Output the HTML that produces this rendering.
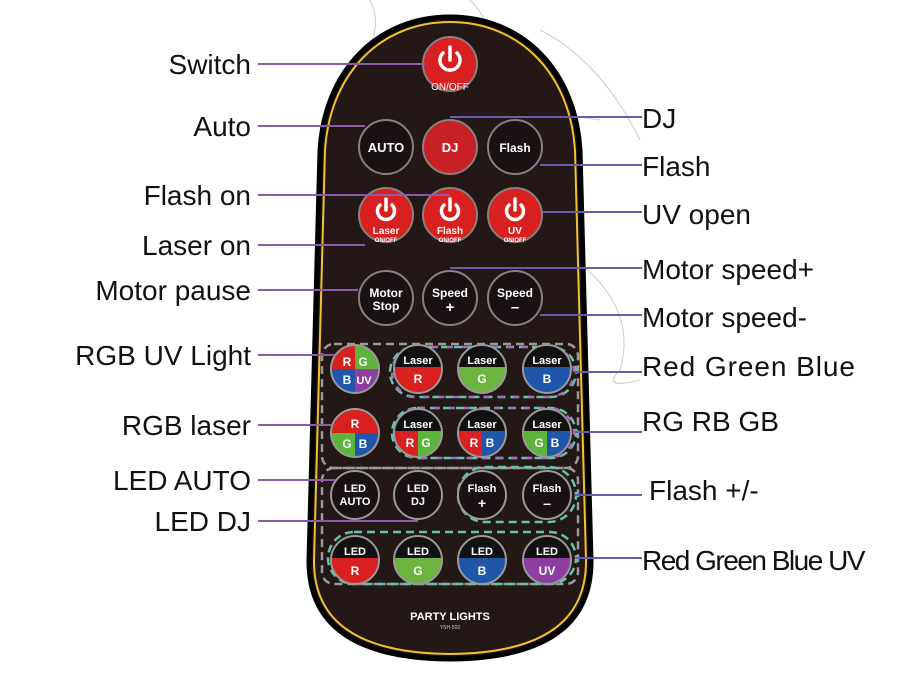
<!DOCTYPE html>
<html><head><meta charset="utf-8"><style>
html,body{margin:0;padding:0;background:#fff;}
svg{display:block;}
text{font-family:"Liberation Sans",sans-serif;}
.lbl{font-size:28px;fill:#111;}
.b{font-weight:bold;fill:#fff;text-anchor:middle;}
</style></head><body>
<svg width="900" height="677" viewBox="0 0 900 677" xmlns="http://www.w3.org/2000/svg">
<defs>
<clipPath id="c"><circle r="24"/></clipPath>
</defs>
<g fill="none" stroke="#ccc" stroke-width="1">
<path d="M370 0 Q380 20 372 40"/><path d="M470 0 Q500 30 480 60 Q520 110 600 120"/>
<path d="M540 30 Q600 60 640 140"/><path d="M560 250 Q640 300 620 370 Q600 390 640 380"/>
</g>
<path d="M450,17 C522,17 575,70 580,150 L591,560 Q592,658 450,659 Q308,658 309,560 L320,150 C325,70 378,17 450,17 Z" fill="#1a0f0f" stroke="#000" stroke-width="5"/>
<path d="M450,22 C519,22 570,73 575,150 L586,560 Q587,653 450,654 Q313,653 314,560 L325,150 C330,73 381,22 450,22 Z" fill="#231815" stroke="#f2c12e" stroke-width="2"/>

<g fill="none" stroke-width="2.5" stroke-dasharray="8 5">
<rect x="322" y="344" width="256" height="124" rx="12" stroke="#9a9a9a"/>
<rect x="322" y="468" width="256" height="116" rx="12" stroke="#9a9a9a"/>
<rect x="390" y="347" width="186" height="50" rx="25" stroke="#5fc6a8"/>
<rect x="392" y="408" width="184" height="50" rx="25" stroke="#5fc6a8"/>
<rect x="458" y="467" width="118" height="55" rx="27" stroke="#5fc6a8"/>
<rect x="328" y="532" width="248" height="52" rx="26" stroke="#5fc6a8"/>
<rect x="392" y="347" width="182" height="50" rx="25" stroke="#a36ac0" stroke-dasharray="6 9"/>
<rect x="394" y="408" width="180" height="50" rx="25" stroke="#a36ac0" stroke-dasharray="6 9"/>
</g>

<g stroke="#8a7f7f" stroke-width="2">
<circle cx="450" cy="64" r="27" fill="#d7201f"/>
<circle cx="386" cy="147" r="27" fill="#1a1212"/>
<circle cx="450" cy="147" r="27" fill="#c82025"/>
<circle cx="515" cy="147" r="27" fill="#1a1212"/>
<circle cx="386" cy="215" r="27" fill="#d7201f"/>
<circle cx="450" cy="215" r="27" fill="#d7201f"/>
<circle cx="515" cy="215" r="27" fill="#d7201f"/>
<circle cx="386" cy="298" r="27" fill="#1a1212"/>
<circle cx="450" cy="298" r="27" fill="#1a1212"/>
<circle cx="515" cy="298" r="27" fill="#1a1212"/>
</g>
<g fill="none" stroke="#fff" stroke-width="3.5" stroke-linecap="round">
<path d="M443,53 A10,10 0 1 0 457,53"/><line x1="450" y1="47" x2="450" y2="60"/>
<path d="M380,205 A8.5,8.5 0 1 0 392,205"/><line x1="386" y1="199" x2="386" y2="210"/>
<path d="M444,205 A8.5,8.5 0 1 0 456,205"/><line x1="450" y1="199" x2="450" y2="210"/>
<path d="M509,205 A8.5,8.5 0 1 0 521,205"/><line x1="515" y1="199" x2="515" y2="210"/>
</g>
<g class="b">
<text x="450" y="90" font-size="10" font-weight="normal">ON/OFF</text>
<text x="386" y="152" font-size="13">AUTO</text>
<text x="450" y="152" font-size="13">DJ</text>
<text x="515" y="152" font-size="12">Flash</text>
<text x="386" y="234" font-size="10">Laser</text>
<text x="450" y="234" font-size="10">Flash</text>
<text x="515" y="234" font-size="10">UV</text>
<text x="386" y="242" font-size="6">ON/OFF</text>
<text x="450" y="242" font-size="6">ON/OFF</text>
<text x="515" y="242" font-size="6">ON/OFF</text>
<text x="386" y="297" font-size="12">Motor</text>
<text x="386" y="310" font-size="12">Stop</text>
<text x="450" y="297" font-size="12">Speed</text>
<text x="450" y="312" font-size="15">+</text>
<text x="515" y="297" font-size="12">Speed</text>
<text x="515" y="312" font-size="15">–</text>
</g>

<g transform="translate(355,369)"><g clip-path="url(#c)">
<rect x="-24" y="-24" width="24" height="24" fill="#d7201f"/><rect x="0" y="-24" width="24" height="24" fill="#5cb43a"/>
<rect x="-24" y="0" width="24" height="24" fill="#1f56a8"/><rect x="0" y="0" width="24" height="24" fill="#8c3fa0"/></g>
<circle r="24" fill="none" stroke="#999" stroke-width="2"/>
<g class="b" font-size="12"><text x="-8" y="-3">R</text><text x="8" y="-3">G</text><text x="-8" y="15">B</text><text x="9" y="15" font-size="11">UV</text></g></g>

<g transform="translate(418,369)"><g clip-path="url(#c)"><rect x="-24" y="-24" width="48" height="22" fill="#111"/><rect x="-24" y="-2" width="48" height="26" fill="#d7201f"/></g>
<circle r="24" fill="none" stroke="#999" stroke-width="2"/><g class="b"><text y="-5" font-size="11">Laser</text><text y="14" font-size="12">R</text></g></g>
<g transform="translate(482,369)"><g clip-path="url(#c)"><rect x="-24" y="-24" width="48" height="22" fill="#111"/><rect x="-24" y="-2" width="48" height="26" fill="#6cb33f"/></g>
<circle r="24" fill="none" stroke="#999" stroke-width="2"/><g class="b"><text y="-5" font-size="11">Laser</text><text y="14" font-size="12">G</text></g></g>
<g transform="translate(547,369)"><g clip-path="url(#c)"><rect x="-24" y="-24" width="48" height="22" fill="#111"/><rect x="-24" y="-2" width="48" height="26" fill="#1f56a8"/></g>
<circle r="24" fill="none" stroke="#999" stroke-width="2"/><g class="b"><text y="-5" font-size="11">Laser</text><text y="14" font-size="12">B</text></g></g>

<g transform="translate(355,433)"><g clip-path="url(#c)"><rect x="-24" y="-24" width="48" height="24" fill="#d7201f"/>
<rect x="-24" y="0" width="24" height="24" fill="#5cb43a"/><rect x="0" y="0" width="24" height="24" fill="#1f56a8"/></g>
<circle r="24" fill="none" stroke="#999" stroke-width="2"/><g class="b" font-size="12"><text y="-5">R</text><text x="-8" y="15">G</text><text x="8" y="15">B</text></g></g>
<g transform="translate(418,433)"><g clip-path="url(#c)"><rect x="-24" y="-24" width="48" height="22" fill="#111"/><rect x="-24" y="-2" width="24" height="26" fill="#d7201f"/><rect x="0" y="-2" width="24" height="26" fill="#5cb43a"/></g>
<circle r="24" fill="none" stroke="#999" stroke-width="2"/><g class="b"><text y="-5" font-size="11">Laser</text><text x="-8" y="14" font-size="12">R</text><text x="8" y="14" font-size="12">G</text></g></g>
<g transform="translate(482,433)"><g clip-path="url(#c)"><rect x="-24" y="-24" width="48" height="22" fill="#111"/><rect x="-24" y="-2" width="24" height="26" fill="#d7201f"/><rect x="0" y="-2" width="24" height="26" fill="#1f56a8"/></g>
<circle r="24" fill="none" stroke="#999" stroke-width="2"/><g class="b"><text y="-5" font-size="11">Laser</text><text x="-8" y="14" font-size="12">R</text><text x="8" y="14" font-size="12">B</text></g></g>
<g transform="translate(547,433)"><g clip-path="url(#c)"><rect x="-24" y="-24" width="48" height="22" fill="#111"/><rect x="-24" y="-2" width="24" height="26" fill="#5cb43a"/><rect x="0" y="-2" width="24" height="26" fill="#1f56a8"/></g>
<circle r="24" fill="none" stroke="#999" stroke-width="2"/><g class="b"><text y="-5" font-size="11">Laser</text><text x="-8" y="14" font-size="12">G</text><text x="8" y="14" font-size="12">B</text></g></g>

<g stroke="#999" stroke-width="2" fill="#1a1212">
<circle cx="355" cy="495" r="24"/><circle cx="418" cy="495" r="24"/><circle cx="482" cy="495" r="24"/><circle cx="547" cy="495" r="24"/></g>
<g class="b" font-size="11">
<text x="355" y="492">LED</text><text x="355" y="505">AUTO</text>
<text x="418" y="492">LED</text><text x="418" y="505">DJ</text>
<text x="482" y="492">Flash</text><text x="482" y="508" font-size="14">+</text>
<text x="547" y="492">Flash</text><text x="547" y="508" font-size="14">–</text>
</g>

<g transform="translate(355,560)"><g clip-path="url(#c)"><rect x="-24" y="-24" width="48" height="22" fill="#111"/><rect x="-24" y="-2" width="48" height="26" fill="#d7201f"/></g>
<circle r="24" fill="none" stroke="#999" stroke-width="2"/><g class="b"><text y="-5" font-size="11">LED</text><text y="15" font-size="12">R</text></g></g>
<g transform="translate(418,560)"><g clip-path="url(#c)"><rect x="-24" y="-24" width="48" height="22" fill="#111"/><rect x="-24" y="-2" width="48" height="26" fill="#6cb33f"/></g>
<circle r="24" fill="none" stroke="#999" stroke-width="2"/><g class="b"><text y="-5" font-size="11">LED</text><text y="15" font-size="12">G</text></g></g>
<g transform="translate(482,560)"><g clip-path="url(#c)"><rect x="-24" y="-24" width="48" height="22" fill="#111"/><rect x="-24" y="-2" width="48" height="26" fill="#1f56a8"/></g>
<circle r="24" fill="none" stroke="#999" stroke-width="2"/><g class="b"><text y="-5" font-size="11">LED</text><text y="15" font-size="12">B</text></g></g>
<g transform="translate(547,560)"><g clip-path="url(#c)"><rect x="-24" y="-24" width="48" height="22" fill="#111"/><rect x="-24" y="-2" width="48" height="26" fill="#8c3fa0"/></g>
<circle r="24" fill="none" stroke="#999" stroke-width="2"/><g class="b"><text y="-5" font-size="11">LED</text><text y="15" font-size="12">UV</text></g></g>

<text x="450" y="620" text-anchor="middle" font-family="Liberation Serif,serif" font-weight="bold" font-size="11" fill="#fff">PARTY LIGHTS</text>
<text x="450" y="629" text-anchor="middle" font-size="5" fill="#ccc">YSH-502</text>

<g stroke="#8b5aa8" stroke-width="2" fill="none">
<line x1="258" y1="64" x2="425" y2="64"/>
<line x1="258" y1="126" x2="365" y2="126"/>
<line x1="258" y1="195" x2="450" y2="195"/>
<line x1="258" y1="245" x2="365" y2="245"/>
<line x1="258" y1="290" x2="358" y2="290"/>
<line x1="258" y1="355" x2="335" y2="355"/>
<line x1="258" y1="425" x2="332" y2="425"/>
<line x1="258" y1="480" x2="335" y2="480"/>
<line x1="258" y1="521" x2="418" y2="521"/>
</g>
<g stroke="#6a5ab0" stroke-width="2" fill="none">
<line x1="450" y1="117" x2="642" y2="117"/>
<line x1="540" y1="165" x2="642" y2="165"/>
<line x1="542" y1="212" x2="642" y2="212"/>
<line x1="450" y1="268" x2="642" y2="268"/>
<line x1="540" y1="315" x2="642" y2="315"/>
<line x1="575" y1="372" x2="642" y2="372"/>
<line x1="575" y1="432" x2="642" y2="432"/>
<line x1="575" y1="495" x2="642" y2="495"/>
<line x1="575" y1="558" x2="642" y2="558"/>
</g>

<g class="lbl" text-anchor="end">
<text x="251" y="74">Switch</text>
<text x="251" y="136">Auto</text>
<text x="251" y="205">Flash on</text>
<text x="251" y="255">Laser on</text>
<text x="251" y="300">Motor pause</text>
<text x="251" y="365">RGB UV Light</text>
<text x="251" y="435">RGB laser</text>
<text x="251" y="490">LED AUTO</text>
<text x="251" y="531">LED DJ</text>
</g>
<g class="lbl">
<text x="642" y="128">DJ</text>
<text x="642" y="176">Flash</text>
<text x="642" y="224">UV open</text>
<text x="642" y="279">Motor speed+</text>
<text x="642" y="327">Motor speed-</text>
<text x="642" y="376" textLength="213">Red  Green Blue</text>
<text x="642" y="431">RG  RB  GB</text>
<text x="649" y="500">Flash +/-</text>
<text x="642" y="570" letter-spacing="-1.5">Red Green Blue UV</text>
</g>
</svg>
</body></html>
